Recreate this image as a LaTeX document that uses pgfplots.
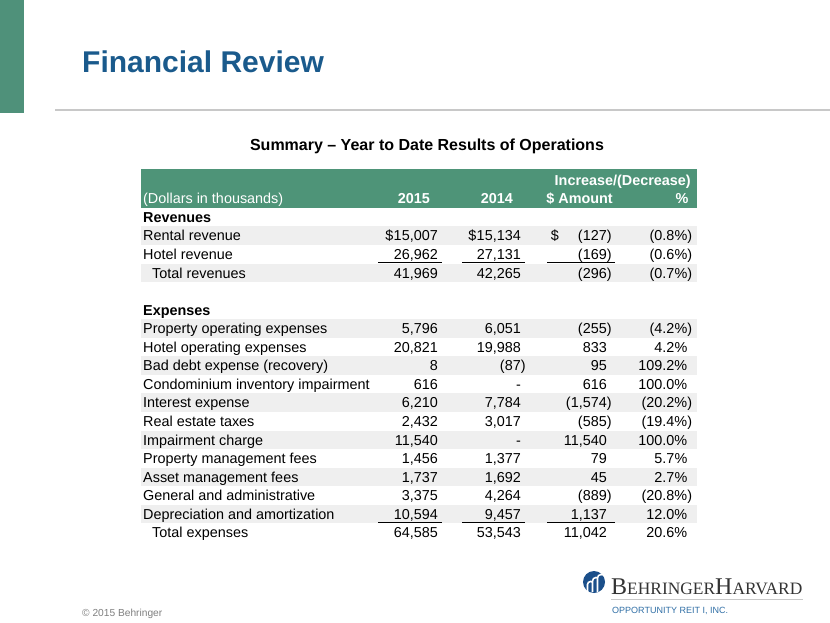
\documentclass[border=0pt]{standalone}
\usepackage{pgfplots}
\pgfplotsset{compat=1.18}
\usepackage{pgfplotstable}
\usepackage{fontspec}
\setmainfont{Liberation Sans}
\newfontfamily\logoserif{Liberation Serif}
\definecolor{hdrgreen}{HTML}{4E9478}
\definecolor{sidegreen}{HTML}{4F917A}
\definecolor{rulegray}{HTML}{C8C8C8}
\definecolor{rowgray}{HTML}{EFEFEF}
\definecolor{titleblue}{HTML}{1A5A8C}
\definecolor{footgray}{HTML}{7F7F7F}
\definecolor{logoblue}{HTML}{1B4F8A}
\definecolor{logotext}{HTML}{333333}
\definecolor{oppblue}{HTML}{2F6EA5}
\newcommand\negv[1]{(#1\rlap{)}}
\newcommand\dolx[1]{\llap{\textdollar\hspace{#1}}}
\newcommand\dshx{-\hspace{11pt}}
\newcommand\rowfont{\fontsize{14.4}{17}\selectfont}

\pgfplotstableread[col sep=semicolon]{
y;label;a;b;c;d
222.3;\textbf{Revenues};;;;
240.9;Rental revenue;\dolx{0.5pt}15,007;\dolx{0.5pt}15,134;\dolx{19pt}\negv{127};\negv{0.8\%}
259.4;Hotel revenue;26,962;27,131;\negv{169};\negv{0.6\%}
278.0;\hspace*{9pt}Total revenues;41,969;42,265;\negv{296};\negv{0.7\%}
315.1;\textbf{Expenses};;;;
333.7;Property operating expenses;5,796;6,051;\negv{255};\negv{4.2\%}
352.2;Hotel operating expenses;20,821;19,988;833;4.2\%
370.8;Bad debt expense (recovery);8;\negv{87};95;109.2\%
389.4;Condominium inventory impairment;616;\dshx;616;100.0\%
407.9;Interest expense;6,210;7,784;\negv{1,574};\negv{20.2\%}
426.5;Real estate taxes;2,432;3,017;\negv{585};\negv{19.4\%}
445.0;Impairment charge;11,540;\dshx;11,540;100.0\%
463.6;Property management fees;1,456;1,377;79;5.7\%
482.2;Asset management fees;1,737;1,692;45;2.7\%
500.7;General and administrative;3,375;4,264;\negv{889};\negv{20.8\%}
519.3;Depreciation and amortization;10,594;9,457;1,137;12.0\%
537.8;\hspace*{9pt}Total expenses;64,585;53,543;11,042;20.6\%
}\ops

\begin{document}
\begin{tikzpicture}
\begin{axis}[at={(0,0)}, anchor=south west, scale only axis,
  width=830pt, height=623pt, xmin=0, xmax=830, ymin=0, ymax=623,
  y dir=reverse, hide axis, clip=false,
  tablecol/.style={draw=none, mark=none, nodes near coords,
    point meta=explicit symbolic,
    every node near coord/.append style={anchor=base east, inner sep=0pt, font=\rowfont, text=black}}]
% sidebar and rule
\fill[sidegreen] (axis cs:0,0) rectangle (axis cs:24,113);
\draw[rulegray, line width=2pt] (axis cs:55,110) -- (axis cs:830,110);
% title
\node[anchor=base west, inner sep=0, font=\fontsize{30}{34}\selectfont\bfseries, text=titleblue] at (axis cs:82,72.5) {Financial Review};
\node[anchor=base, inner sep=0, font=\fontsize{16}{19}\selectfont\bfseries] at (axis cs:427,151) {Summary – Year to Date Results of Operations};
% header band
\fill[hdrgreen] (axis cs:141,169) rectangle (axis cs:697,208);
\node[anchor=base east, inner sep=0, font=\rowfont\bfseries, text=white] at (axis cs:691,185.2) {Increase/(Decrease)};
\node[anchor=base west, inner sep=0, font=\rowfont, text=white] at (axis cs:143,203.8) {(Dollars in thousands)};
\node[anchor=base east, inner sep=0, font=\rowfont\bfseries, text=white] at (axis cs:430,203.8) {2015};
\node[anchor=base east, inner sep=0, font=\rowfont\bfseries, text=white] at (axis cs:513,203.8) {2014};
\node[anchor=base east, inner sep=0, font=\rowfont\bfseries, text=white] at (axis cs:613,203.8) {\$ Amount};
\node[anchor=base, inner sep=0, font=\rowfont\bfseries, text=white] at (axis cs:682,203.8) {\%};
% row shading
\fill[rowgray] (axis cs:141,226.4) rectangle (axis cs:697,245.0);
\fill[rowgray] (axis cs:141,263.5) rectangle (axis cs:697,282.1);
\fill[rowgray] (axis cs:141,319.2) rectangle (axis cs:697,337.8);
\fill[rowgray] (axis cs:141,356.3) rectangle (axis cs:697,374.9);
\fill[rowgray] (axis cs:141,393.4) rectangle (axis cs:697,412.0);
\fill[rowgray] (axis cs:141,430.5) rectangle (axis cs:697,449.1);
\fill[rowgray] (axis cs:141,467.7) rectangle (axis cs:697,486.3);
\fill[rowgray] (axis cs:141,504.8) rectangle (axis cs:697,523.4);
% underlines
\draw[black, line width=0.8pt] (axis cs:378,262.8) -- (axis cs:441.5,262.8);
\draw[black, line width=0.8pt] (axis cs:462,262.8) -- (axis cs:524.5,262.8);
\draw[black, line width=0.8pt] (axis cs:547,262.8) -- (axis cs:615,262.8);
\draw[black, line width=0.8pt] (axis cs:378,522.7) -- (axis cs:441.5,522.7);
\draw[black, line width=0.8pt] (axis cs:462,522.7) -- (axis cs:524.5,522.7);
\draw[black, line width=0.8pt] (axis cs:547,522.7) -- (axis cs:615,522.7);
% table body
\addplot[draw=none, mark=none, nodes near coords, point meta=explicit symbolic,
  every node near coord/.append style={anchor=base west, inner sep=0pt, font=\rowfont, text=black}]
  table[x expr=143, y=y, meta=label] {\ops};
\addplot[tablecol] table[x expr=438, y=y, meta=a] {\ops};
\addplot[tablecol] table[x expr=521, y=y, meta=b] {\ops};
\addplot[tablecol] table[x expr=607, y=y, meta=c] {\ops};
\addplot[tablecol] table[x expr=687.5, y=y, meta=d] {\ops};
% footer
\node[anchor=base west, inner sep=0, font=\fontsize{10.2}{12}\selectfont, text=footgray] at (axis cs:82,616) {© 2015 Behringer};
% logo
\fill[logoblue] (axis cs:594,582) circle[radius=11pt];
\draw[white, line width=1.6pt] (axis cs:587.5,592) -- (axis cs:587.5,584.5) arc[start angle=180, end angle=60, radius=3pt];
\draw[white, line width=1.6pt] (axis cs:592.5,592) -- (axis cs:592.5,581) arc[start angle=180, end angle=60, radius=3.5pt];
\draw[white, line width=1.6pt] (axis cs:597.5,592) -- (axis cs:597.5,578) arc[start angle=180, end angle=60, radius=3.5pt];
\node[anchor=base west, inner sep=0, text=logotext] at (axis cs:611,594) {\logoserif\fontsize{24}{26}\selectfont B\fontsize{17.4}{20}\selectfont EHRINGER\fontsize{24}{26}\selectfont H\fontsize{17.4}{20}\selectfont ARVARD};
\draw[rulegray, line width=0.8pt] (axis cs:611,599) -- (axis cs:803,599);
\node[anchor=base west, inner sep=0, text=oppblue, font=\fontsize{9}{11}\selectfont] at (axis cs:612,613) {OPPORTUNITY REIT I, INC.};
\end{axis}
\pgfresetboundingbox
\path[use as bounding box] (0,0) rectangle (830pt,623pt);
\end{tikzpicture}
\end{document}
